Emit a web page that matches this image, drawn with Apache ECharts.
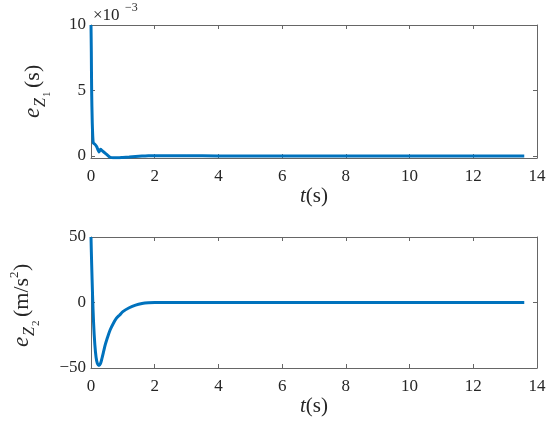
<!DOCTYPE html>
<html><head><meta charset="utf-8">
<script src="https://cdn.jsdelivr.net/npm/echarts@6/dist/echarts.min.js"></script>
<style>html,body{margin:0;padding:0;background:#fff}#c{width:550px;height:422px}</style>
</head><body><div id="c"></div>
<script>
// Data
var xTicks = [0, 2, 4, 6, 8, 10, 12, 14];
var yTicks1 = [0, 0.005, 0.01];
var yTicks2 = [-50, 0, 50];
var t1 = [0, 0.01, 0.02, 0.04, 0.07, 0.12, 0.18, 0.25, 0.3, 0.35, 0.4, 0.5, 0.6, 0.7, 0.85, 1.0, 1.2, 1.4, 1.6, 1.8, 2.0, 3, 4, 6, 8, 10, 12, 13.6];
var z1 = [0.01, 0.008, 0.005, 0.0025, 0.001, 0.0009, 0.0007, 0.0003, 0.0005, 0.0004, 0.0003, 0.0001, -0.0001, -0.00015, -0.00015, -0.00012, -0.00008, -0.00004, -0.00001, 0.00001, 0.00002, 0.00001, 0, 0, 0, 0, 0, 0];
var t2 = [0, 0.02, 0.05, 0.08, 0.12, 0.16, 0.2, 0.25, 0.3, 0.35, 0.4, 0.45, 0.5, 0.6, 0.7, 0.8, 0.9, 1.0, 1.2, 1.4, 1.6, 1.8, 2.0, 3, 4, 6, 8, 10, 12, 13.6];
var z2 = [50, 30, 5, -15, -32, -42, -46.5, -48, -46.5, -42, -37, -32, -28, -21, -16, -12, -9.5, -7, -4, -2, -0.8, -0.2, 0, 0, 0, 0, 0, 0, 0, 0];

function pairs(t, z) { return t.map(function (v, i) { return [v, z[i]]; }); }

var FONT = 'Liberation Serif';
var AX = '#666';
var TXT = '#262626';
var BLUE = '#0072BD';

var grids = [
  { left: 91, right: 13, top: 25, height: 133 },
  { left: 91, right: 13, top: 237, height: 131 }
];

function xAxisMain(g) {
  return {
    type: 'value', gridIndex: g, min: 0, max: 14, interval: 2, position: 'bottom',
    axisLine: { onZero: false, lineStyle: { color: AX, width: 1 } },
    axisTick: { inside: true, length: 4, lineStyle: { color: AX } },
    axisLabel: { color: TXT, fontFamily: FONT, fontSize: 17, margin: 10,
      customValues: xTicks },
    splitLine: { show: false },
    name: '{i|t}(s)', nameLocation: 'middle', nameGap: 28,
    nameTextStyle: { color: TXT, fontFamily: FONT, fontSize: 21,
      rich: { i: { fontStyle: 'italic', fontFamily: FONT, fontSize: 21, color: TXT } } }
  };
}
function xAxisTop(g) {
  return {
    type: 'value', gridIndex: g, min: 0, max: 14, interval: 2, position: 'top',
    axisLine: { onZero: false, lineStyle: { color: AX, width: 1 } },
    axisTick: { inside: true, length: 4, lineStyle: { color: AX } },
    axisLabel: { show: false }, splitLine: { show: false }
  };
}
function yAxis(g, min, max, ticks, pos, fmt) {
  return {
    type: 'value', gridIndex: g, min: min, max: max, position: pos,
    axisLine: { show: true, onZero: false, lineStyle: { color: AX, width: 1 } },
    axisTick: { show: true, inside: true, length: 4, lineStyle: { color: AX }, customValues: ticks },
    axisLabel: { show: pos === 'left', color: TXT, fontFamily: FONT, fontSize: 17, margin: 5,
      customValues: ticks, formatter: fmt },
    splitLine: { show: false }
  };
}

var option = {
  backgroundColor: '#fff',
  animation: false,
  grid: grids,
  xAxis: [xAxisMain(0), xAxisTop(0), xAxisMain(1), xAxisTop(1)],
  yAxis: [
    yAxis(0, -0.00016, 0.01, yTicks1, 'left', function (v) { return String(Math.round(v * 1000)); }),
    yAxis(0, -0.00016, 0.01, yTicks1, 'right'),
    yAxis(1, -50, 50, yTicks2, 'left', function (v) { return v < 0 ? '\u2212' + Math.abs(v) : String(v); }),
    yAxis(1, -50, 50, yTicks2, 'right')
  ],
  series: [
    { type: 'line', xAxisIndex: 0, yAxisIndex: 0, data: pairs(t1, z1), showSymbol: false,
      lineStyle: { color: BLUE, width: 3 }, smooth: 0.2 },
    { type: 'line', xAxisIndex: 2, yAxisIndex: 2, data: pairs(t2, z2), showSymbol: false,
      lineStyle: { color: BLUE, width: 3 }, smooth: 0.3 }
  ],
  graphic: [
    { type: 'text', x: 93, y: 16, style: { text: '\u00d710', font: '17px "' + FONT + '"', fill: TXT, verticalAlign: 'middle' } },
    { type: 'text', x: 125, y: 8, style: { text: '\u22123', font: '12px "' + FONT + '"', fill: TXT, verticalAlign: 'middle' } },
    { type: 'group', x: 33, y: 118, rotation: Math.PI / 2, children: [
      { type: 'text', x: 0, y: 0, style: { text: 'e', font: 'italic 23px "' + FONT + '"', fill: TXT, verticalAlign: 'middle' } },
      { type: 'text', x: 11, y: 8, style: { text: 'Z', font: 'italic 16px "' + FONT + '"', fill: TXT, verticalAlign: 'middle' } },
      { type: 'text', x: 21, y: 14, style: { text: '1', font: '11px "' + FONT + '"', fill: TXT, verticalAlign: 'middle' } },
      { type: 'text', x: 30, y: 0, style: { text: '(s)', font: '22px "' + FONT + '"', fill: TXT, verticalAlign: 'middle' } }
    ]},
    { type: 'group', x: 22, y: 347, rotation: Math.PI / 2, children: [
      { type: 'text', x: 0, y: 0, style: { text: 'e', font: 'italic 23px "' + FONT + '"', fill: TXT, verticalAlign: 'middle' } },
      { type: 'text', x: 11, y: 8, style: { text: 'Z', font: 'italic 16px "' + FONT + '"', fill: TXT, verticalAlign: 'middle' } },
      { type: 'text', x: 21, y: 14, style: { text: '2', font: '11px "' + FONT + '"', fill: TXT, verticalAlign: 'middle' } },
      { type: 'text', x: 30, y: 0, style: { text: '(m/s', font: '22px "' + FONT + '"', fill: TXT, verticalAlign: 'middle' } },
      { type: 'text', x: 69, y: -7, style: { text: '2', font: '13px "' + FONT + '"', fill: TXT, verticalAlign: 'middle' } },
      { type: 'text', x: 76, y: 0, style: { text: ')', font: '22px "' + FONT + '"', fill: TXT, verticalAlign: 'middle' } }
    ]}
  ]
};
var chart = echarts.init(document.getElementById('c'), null, { renderer: 'canvas' });
chart.setOption(option);
</script></body></html>
